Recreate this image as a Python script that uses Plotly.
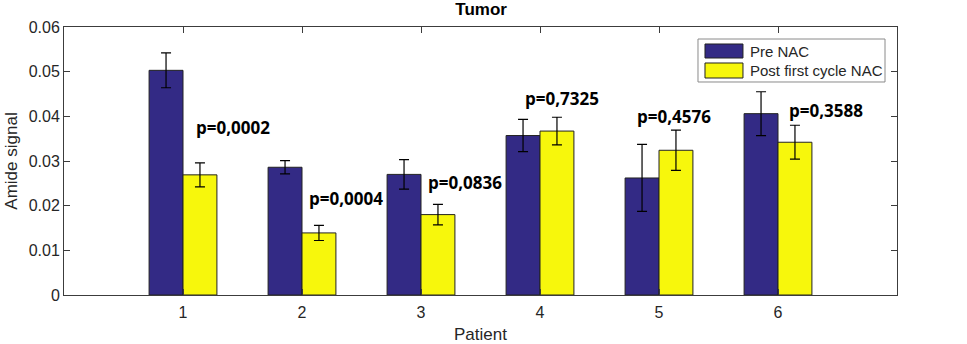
import plotly.graph_objects as go

patients = [1, 2, 3, 4, 5, 6]
pre_nac = [0.0503, 0.0286, 0.0270, 0.0357, 0.0262, 0.0406]
pre_err = [0.0039, 0.0015, 0.0033, 0.0036, 0.0075, 0.0049]
post_nac = [0.0269, 0.0139, 0.0180, 0.0367, 0.0324, 0.0342]
post_err = [0.0027, 0.0017, 0.0023, 0.0031, 0.0045, 0.0038]
p_labels = ["p=0,0002", "p=0,0004", "p=0,0836", "p=0,7325", "p=0,4576", "p=0,3588"]
p_x = [1.09, 2.04, 3.04, 3.855, 4.80, 6.073]
p_y = [0.0376, 0.0215, 0.0252, 0.0439, 0.0399, 0.0414]
y_ticks = [0, 0.01, 0.02, 0.03, 0.04, 0.05, 0.06]
y_ticktext = ["0", "0.01", "0.02", "0.03", "0.04", "0.05", "0.06"]
series_names = ["Pre NAC", "Post first cycle NAC"]

blue = "#332a85"
yellow = "#f7f70c"
axis_col = "#3c3c3c"
txt_col = "#262626"
font_fam = "Liberation Sans, Arial, sans-serif"

fig = go.Figure()
fig.add_trace(go.Bar(
    x=patients, y=pre_nac, name=series_names[0],
    marker=dict(color=blue, line=dict(color="#222222", width=1)),
    error_y=dict(type="data", array=pre_err, color="black", thickness=1.2, width=5),
))
fig.add_trace(go.Bar(
    x=patients, y=post_nac, name=series_names[1],
    marker=dict(color=yellow, line=dict(color="#222222", width=1)),
    error_y=dict(type="data", array=post_err, color="black", thickness=1.2, width=5),
))

for lab, xx, yy in zip(p_labels, p_x, p_y):
    fig.add_annotation(x=xx, y=yy, text="<b>" + lab + "</b>", showarrow=False,
                       xanchor="left", yanchor="middle",
                       font=dict(family="Open Sans, sans-serif", size=17, color="black"))

# custom legend (MATLAB-style) in paper coordinates
fig.add_shape(type="rect", xref="paper", yref="paper", x0=0.7611, x1=0.9856, y0=0.7948, y1=0.9552,
              line=dict(color="#8a8a8a", width=1), fillcolor="white", layer="above")
sw_y = [(0.8843, 0.9366), (0.8097, 0.8657)]
txt_y = [0.9104, 0.8377]
for name, col, (y0, y1), ty in zip(series_names, [blue, yellow], sw_y, txt_y):
    fig.add_shape(type="rect", xref="paper", yref="paper", x0=0.7695, x1=0.8151, y0=y0, y1=y1,
                  line=dict(color="#222222", width=1), fillcolor=col, layer="above")
    fig.add_annotation(xref="paper", yref="paper", x=0.8211, y=ty, text=name, showarrow=False,
                       xanchor="left", yanchor="middle",
                       font=dict(family=font_fam, size=15, color=txt_col))

fig.update_layout(
    width=967, height=344,
    margin=dict(l=64, r=70, t=27, b=49),
    paper_bgcolor="white", plot_bgcolor="white",
    barmode="group", bargap=0.43, bargroupgap=0,
    font=dict(family=font_fam, size=16, color=txt_col),
    title=dict(text="<b>Tumor</b>", x=0.4975, xanchor="center", yref="container",
               y=1 - 3 / 344, yanchor="top",
               font=dict(family=font_fam, size=17, color="black")),
    showlegend=False,
)
fig.update_xaxes(
    range=[0, 7], tickmode="array", tickvals=patients,
    ticks="inside", ticklen=6, tickcolor=axis_col,
    showline=True, linecolor=axis_col, linewidth=1, mirror="ticks",
    showgrid=False, zeroline=False, automargin=False,
    ticklabelstandoff=3,
    title=dict(text="Patient", standoff=8, font=dict(size=17)),
    tickfont=dict(size=16),
)
fig.update_yaxes(
    range=[0, 0.06], tickmode="array", tickvals=y_ticks, ticktext=y_ticktext,
    ticks="inside", ticklen=6, tickcolor=axis_col,
    showline=True, linecolor=axis_col, linewidth=1, mirror="ticks",
    showgrid=False, zeroline=False, automargin=False,
    title=dict(text="Amide signal", standoff=6, font=dict(size=17)),
    tickfont=dict(size=16),
)

fig.write_html("out.html", config={"displayModeBar": False},
               post_script="document.body.style.margin='0';")
